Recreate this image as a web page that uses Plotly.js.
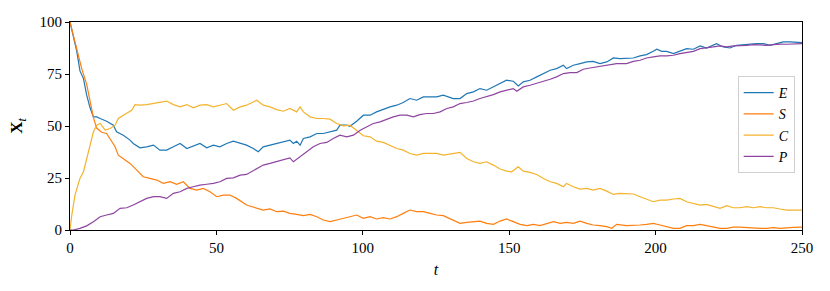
<!DOCTYPE html>
<html>
<head>
<meta charset="utf-8">
<script src="https://cdn.plot.ly/plotly-3.0.1.min.js"></script>
<style>
  html, body { margin: 0; padding: 0; background: #fff; }
  #chart { width: 830px; height: 291px; }
</style>
</head>
<body>
<div id="chart"></div>
<script>
// values (time t, count X_t)
var tE = [0, 2.3, 3.4, 4.6, 5.7, 6.8, 8.0, 9.1, 10.3, 12.5, 14.8, 15.9, 18.2, 20.5, 21.6, 23.9, 26.2, 28.5, 30.7, 33.0,
  35.3, 37.6, 39.9, 42.1, 44.4, 46.7, 49.0, 51.2, 53.5, 55.8, 58.1, 60.3, 62.6, 64.3, 66.0, 68.3, 70.6, 72.9, 75.1, 76.3,
  77.4, 78.6, 79.7, 82.0, 84.3, 86.5, 88.8, 91.1, 92.2, 94.5, 95.6, 97.9, 100.2, 102.5, 104.7, 107.0, 109.3, 111.6, 113.8, 116.1,
  118.4, 120.7, 123.0, 125.2, 127.5, 130.9, 133.2, 135.5, 137.8, 140.0, 142.3, 144.6, 146.9, 149.1, 151.4, 153.1, 154.8, 157.1, 159.4, 161.7,
  164.0, 166.2, 168.5, 169.6, 171.9, 174.2, 176.5, 178.7, 181.0, 183.3, 185.6, 187.8, 190.1, 192.4, 194.7, 196.9, 199.2, 200.4, 202.1, 203.8,
  206.1, 208.3, 210.6, 212.9, 215.2, 217.4, 219.7, 220.8, 223.1, 225.4, 227.7, 230.0, 232.2, 234.5, 236.8, 239.1, 241.3, 243.6, 245.9, 248.2, 250];
var E = [100, 86, 76.5, 72.8, 64.8, 59, 54.4, 54.4, 53.6, 52.3, 50.4, 47.2, 45.6, 43.2, 41.6, 39.5, 40, 40.8, 38.4, 38.4,
  40, 41.6, 39.2, 40.5, 41.6, 39.5, 40.8, 40, 41.6, 42.7, 41.6, 40.8, 39.2, 37.6, 40, 40.8, 41.6, 42.7, 43.2, 41.6,
  42.7, 40.8, 44, 44.8, 46.4, 46.4, 47.2, 48, 50.4, 50.4, 49.9, 52.3, 55.2, 55.2, 56.8, 58.1, 59.2, 60, 61.3, 63.2,
  62.4, 64, 64, 64, 64.8, 63.2, 63.2, 65.6, 66.4, 68, 67.2, 68.8, 70.4, 72, 71.5, 69.3, 71.2, 72, 73.6, 75.2,
  76.8, 77.6, 79.2, 77.6, 79.2, 80, 80.8, 81.1, 80, 80.8, 82.7, 82.4, 82.4, 82.7, 83.7, 84.3, 85.9, 86.9, 85.9, 85.9,
  84.8, 85.9, 87.2, 86.9, 88.5, 87.5, 88.8, 89.6, 88, 87.5, 88.8, 89.1, 89.1, 89.6, 89.6, 88.8, 89.6, 90.4, 90.4, 90.4, 90.1];

var tS = [0, 2.3, 4.0, 5.7, 6.8, 8.0, 9.1, 10.8, 12.5, 13.7, 15.4, 16.5, 18.2, 20.5, 22.8, 25.0, 27.3, 29.6, 31.9, 34.2,
  36.4, 38.7, 41.0, 43.3, 45.5, 47.8, 50.1, 52.4, 54.6, 56.9, 60.3, 63.8, 66.0, 68.3, 70.6, 72.9, 75.1, 77.4, 79.7, 82.0,
  84.3, 86.5, 88.8, 91.1, 93.4, 95.6, 97.9, 100.2, 102.5, 104.7, 107.0, 109.3, 111.6, 113.8, 116.1, 118.4, 120.7, 123.0, 125.2, 127.5,
  130.9, 133.2, 135.5, 137.8, 140.0, 142.3, 144.6, 146.9, 149.1, 151.4, 153.7, 156.0, 158.3, 160.5, 162.8, 165.1, 167.4, 169.6, 171.9, 174.2,
  176.5, 178.7, 181.0, 183.3, 185.0, 186.7, 190.1, 192.4, 194.7, 196.9, 199.2, 201.5, 203.8, 206.1, 208.3, 210.6, 212.9, 215.2, 217.4, 219.7,
  222.0, 224.3, 226.5, 228.8, 231.1, 233.4, 235.7, 237.9, 240.2, 242.5, 244.8, 247.0, 250];
var S = [100, 87, 77.6, 70, 62, 54, 49, 47, 46.4, 44, 40, 36, 34.4, 32, 28.8, 25.6, 24.8, 24, 22.4, 23.2,
  22, 23.2, 20, 19.2, 20, 18.4, 16, 16.8, 16.8, 15.2, 12, 10.4, 9.6, 10.1, 8.8, 9.1, 8, 7.5, 6.9, 7.5,
  6.4, 4.8, 4, 4.8, 5.6, 6.4, 7.2, 5.6, 6.4, 5.3, 5.9, 5.3, 6.4, 8, 9.6, 8.8, 8.8, 8, 7.2, 6.9,
  4.8, 3.2, 3.7, 4, 4.3, 3.2, 2.7, 4.3, 5.3, 4, 2.7, 2.1, 2.7, 2.1, 3.2, 4, 3.2, 3.7, 3.2, 4.3,
  3.2, 2.4, 2.1, 1.6, 0.8, 2.7, 2.1, 2.1, 2.4, 2.7, 3.2, 2.4, 1.6, 0.8, 0.8, 2.1, 2.1, 2.7, 2.1, 1.6,
  0.8, 0.8, 1.4, 1.4, 1.1, 0.8, 0.8, 0.8, 1.1, 0.8, 1.1, 1.3, 1.4];

var tC = [0, 0.6, 1.7, 3.4, 4.6, 5.7, 6.8, 8.0, 9.1, 10.3, 12.0, 13.7, 15.4, 16.5, 18.2, 19.9, 21.1, 22.2, 23.9, 26.2,
  28.5, 30.7, 33.0, 35.3, 37.6, 39.9, 42.1, 44.4, 46.7, 49.0, 51.2, 53.5, 55.8, 58.1, 60.3, 63.8, 66.0, 68.3, 70.6, 72.9,
  75.1, 77.4, 78.6, 79.7, 82.0, 84.3, 86.5, 88.8, 91.1, 93.4, 95.6, 97.9, 100.2, 102.5, 104.7, 107.0, 109.3, 111.6, 113.8, 116.1,
  118.4, 120.7, 123.0, 125.2, 127.5, 130.9, 133.2, 135.5, 137.8, 140.0, 142.3, 144.6, 146.9, 149.1, 150.8, 153.1, 154.8, 157.1, 159.4, 161.7,
  164.0, 166.2, 168.5, 169.6, 171.9, 174.2, 176.5, 178.7, 181.0, 183.3, 185.6, 187.8, 190.1, 192.4, 194.7, 196.9, 199.2, 201.5, 203.8, 206.1,
  208.3, 210.6, 212.9, 215.2, 217.4, 219.7, 222.0, 224.3, 226.5, 228.8, 231.1, 233.4, 235.7, 237.9, 240.2, 242.5, 244.8, 247.0, 250];
var C = [0, 7, 16.8, 24.8, 28, 34.4, 40.8, 47.2, 50.4, 51.2, 48, 48.8, 50.4, 53.6, 55.2, 56.8, 57.6, 60.3, 60, 60.3,
  60.8, 61.6, 62, 60.3, 59.2, 60.3, 58.7, 60, 60.3, 59.2, 60, 60.8, 57.6, 59.2, 60, 62.4, 60, 59.2, 57.9, 57.1,
  58.4, 56.8, 59.2, 56.8, 54.4, 53.6, 53.6, 53.3, 51.2, 50.1, 50.4, 48, 45.3, 44.8, 42.7, 42.1, 40.8, 39.2, 38.4, 36.8,
  36, 36.8, 36.8, 36.8, 36, 36.8, 37.3, 34.4, 32.8, 32, 32.8, 31.2, 29.3, 28.3, 28, 30.4, 28.3, 27.7, 26.7, 24.8,
  23.2, 22.4, 20.8, 22.4, 20.8, 19.7, 20, 19.2, 20, 18.7, 17.1, 17.6, 17.6, 17.3, 16, 14.9, 13.6, 14.4, 14.4, 14.9,
  15.2, 13.6, 12.8, 12, 12.3, 11.2, 10.4, 11.7, 10.7, 10.7, 11.2, 10.7, 11.2, 10.7, 10.7, 10.1, 9.6, 9.6, 9.6];

var tP = [0, 1.1, 3.4, 5.7, 8.0, 10.3, 12.5, 14.8, 17.1, 19.4, 21.6, 23.9, 26.2, 28.5, 30.7, 33.0, 35.3, 37.6, 39.9, 42.1,
  44.4, 46.7, 49.0, 51.2, 53.5, 55.8, 58.1, 60.3, 63.8, 66.0, 68.3, 70.6, 72.9, 75.1, 76.3, 78.6, 80.8, 83.1, 85.4, 87.7,
  89.9, 92.2, 94.5, 96.8, 99.1, 101.3, 103.6, 105.9, 108.2, 110.4, 112.7, 115.0, 117.3, 119.5, 121.8, 124.1, 126.4, 128.7, 130.9, 133.2,
  135.5, 137.8, 140.0, 142.3, 144.6, 146.9, 149.1, 151.4, 152.6, 154.8, 157.1, 159.4, 161.7, 164.0, 166.2, 168.5, 170.8, 173.1, 175.3, 177.6,
  179.9, 182.2, 184.4, 186.7, 190.1, 192.4, 194.7, 196.9, 199.2, 201.5, 203.8, 206.1, 208.3, 210.6, 212.9, 215.2, 217.4, 219.7, 222.0, 224.3,
  226.5, 228.8, 231.1, 233.4, 235.7, 237.9, 240.2, 242.5, 244.8, 247.0, 250];
var P = [0, 0, 0.8, 2, 4, 6.4, 7.2, 8, 10.4, 10.7, 12, 13.6, 15.2, 16, 16, 15.2, 17.6, 18.4, 20, 20.8,
  21.6, 22, 22.4, 23.2, 24.8, 25.1, 26.4, 26.7, 29.6, 31.2, 32, 32.8, 33.6, 34.7, 32.8, 35.2, 37.6, 40, 41.6, 42.1,
  44, 45.6, 44.8, 45.6, 48, 49.6, 51.2, 52, 53.3, 54.4, 55.2, 55.2, 54.4, 55.5, 56, 56, 56.8, 58.4, 59.2, 60.8,
  61.3, 62, 63.2, 64, 65.1, 66.4, 67.2, 68, 66.7, 68.8, 69.6, 70.4, 71.5, 72.5, 73.6, 75.2, 75.7, 75.7, 77.3, 77.9,
  78.4, 78.9, 79.2, 80, 80, 81.1, 81.6, 82.7, 83.2, 83.7, 83.7, 84, 84.8, 85.3, 85.9, 87.2, 87.5, 88, 88.5, 88,
  88.5, 88.5, 88.8, 89.1, 88.8, 88.8, 89.1, 89.4, 89.3, 89.4, 89.6];

var names = ["<i>E</i>", "<i>S</i>", "<i>C</i>", "<i>P</i>"];
var colors = ["#1f77b4", "#ff7f0e", "#f4b32c", "#8e44a0"];

var serif = "Liberation Serif";

var traces = [[tE, E], [tS, S], [tC, C], [tP, P]].map(function (d, i) {
  return {
    x: d[0],
    y: d[1],
    name: names[i],
    type: "scatter",
    mode: "lines",
    line: { color: colors[i], width: 1.2 }
  };
});

var axisStyle = {
  showline: true,
  mirror: true,
  linecolor: "#000",
  linewidth: 1,
  ticks: "outside",
  ticklen: 4,
  tickcolor: "#000",
  showgrid: false,
  zeroline: false,
  tickfont: { family: serif, size: 15, color: "#000" }
};

var layout = {
  width: 830,
  height: 291,
  margin: { l: 70, r: 28, t: 22, b: 61 },
  paper_bgcolor: "#fff",
  plot_bgcolor: "#fff",
  font: { family: serif, color: "#000" },
  showlegend: true,
  xaxis: Object.assign({}, axisStyle, {
    range: [0, 250],
    tickvals: [0, 50, 100, 150, 200, 250],
    title: { text: "<i>t</i>", font: { family: serif, size: 16, color: "#000" }, standoff: 8 }
  }),
  yaxis: Object.assign({}, axisStyle, {
    range: [0, 100],
    tickvals: [0, 25, 50, 75, 100],
    title: { text: "<b>X</b><sub><i>t</i></sub>", font: { family: serif, size: 17, color: "#000" }, standoff: 12 }
  }),
  legend: {
    x: 0.99,
    xanchor: "right",
    y: 0.74,
    yanchor: "top",
    bgcolor: "#fff",
    bordercolor: "#d0d0d0",
    borderwidth: 1,
    itemwidth: 30,
    tracegroupgap: 0,
    font: { family: serif, size: 14, color: "#000" }
  }
};

Plotly.newPlot("chart", traces, layout, { displayModeBar: false, staticPlot: true });
</script>
</body>
</html>
